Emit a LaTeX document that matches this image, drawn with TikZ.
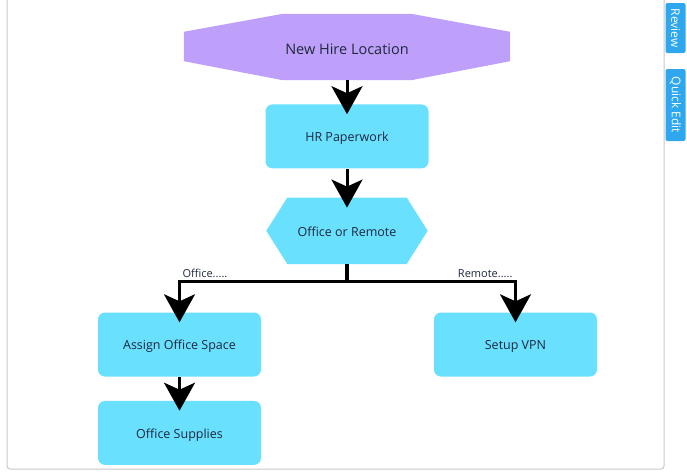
\documentclass[tikz,border=0pt]{standalone}
\usepackage{fontspec}
\setmainfont{Open Sans}
\usetikzlibrary{arrows.meta,positioning,backgrounds}
\definecolor{hirepurple}{RGB}{190,160,250}
\definecolor{stepcyan}{RGB}{106,224,255}
\definecolor{tabblue}{RGB}{46,167,238}
\definecolor{txtdark}{RGB}{30,40,60}
\definecolor{framegray}{RGB}{200,200,200}

\begin{document}
\begin{tikzpicture}[x=1pt,y=-1pt,font=\fontsize{12.5}{15}\selectfont,text=txtdark,
  box/.style={fill=stepcyan,rounded corners=7pt,align=center,inner sep=0pt,text height=2ex,text depth=0pt,minimum width=163pt,minimum height=64pt},
  octa/.style={align=center,inner sep=0pt,text height=15pt,text depth=0pt,minimum width=326pt,minimum height=66pt,font=\fontsize{14.5}{17}\selectfont},
  hexa/.style={align=center,inner sep=0pt,text height=2ex,text depth=0pt,minimum width=161pt,minimum height=66pt},
  arr/.style={line width=3pt,shorten >=-10pt,-{Stealth[length=28pt,width=31pt,inset=7pt]}},
  branch/.style={font=\fontsize{11}{13}\selectfont,inner sep=1.5pt},
  tab/.style={fill=tabblue,text=white,rounded corners=2pt,rotate=-90,inner sep=0pt,minimum height=20pt,font=\fontsize{12}{14}\selectfont}]

  \useasboundingbox (0,0) rectangle (687,474);
  \draw[framegray,line width=1pt,rounded corners=3pt] (7,-5) |- (664,469) -- (664,-5);

  % main column
  \node[octa] (hire) at (347,47) {New Hire Location};
  \node[box,below=24pt of hire] (hr) {HR Paperwork};
  \node[hexa,below=29pt of hr] (decide) {Office or Remote};
  \coordinate[below=17pt of decide.south] (fork);

  % the two branches
  \node[box] (assign) at (179.5,344.5) {Assign Office Space};
  \node[box,below=24pt of assign] (supplies) {Office Supplies};
  \node[box] (vpn) at (515.5,344.5) {Setup VPN};

  \begin{scope}[on background layer]
    \fill[hirepurple] ([xshift=99pt]hire.north west) -- ([xshift=-99pt]hire.north east)
      -- ([yshift=-18pt]hire.north east) -- ([yshift=19pt]hire.south east)
      -- ([xshift=-99pt]hire.south east) -- ([xshift=99pt]hire.south west)
      -- ([yshift=19pt]hire.south west) -- ([yshift=-18pt]hire.north west) -- cycle;
    \fill[stepcyan] ([xshift=21pt]decide.north west) -- ([xshift=-21pt]decide.north east)
      -- (decide.east) -- ([xshift=-21pt]decide.south east)
      -- ([xshift=21pt]decide.south west) -- (decide.west) -- cycle;
  \end{scope}

  \draw[arr] (hire) -- (hr);
  \draw[arr] (hr) -- (decide);
  \draw[line width=3.5pt] (decide) -- (fork);
  \draw[arr] (fork) -| node[branch,pos=0.5,above right]{Office.....} (assign.north);
  \draw[arr] (fork) -| node[branch,pos=0.5,above left]{Remote.....} (vpn.north);
  \draw[arr] (assign) -- (supplies);

  % side tabs
  \node[tab,minimum width=50pt] (review) at (675.5,28) {Review};
  \node[tab,minimum width=72pt] (quickedit) at (675.5,105) {Quick Edit};
\end{tikzpicture}
\end{document}
